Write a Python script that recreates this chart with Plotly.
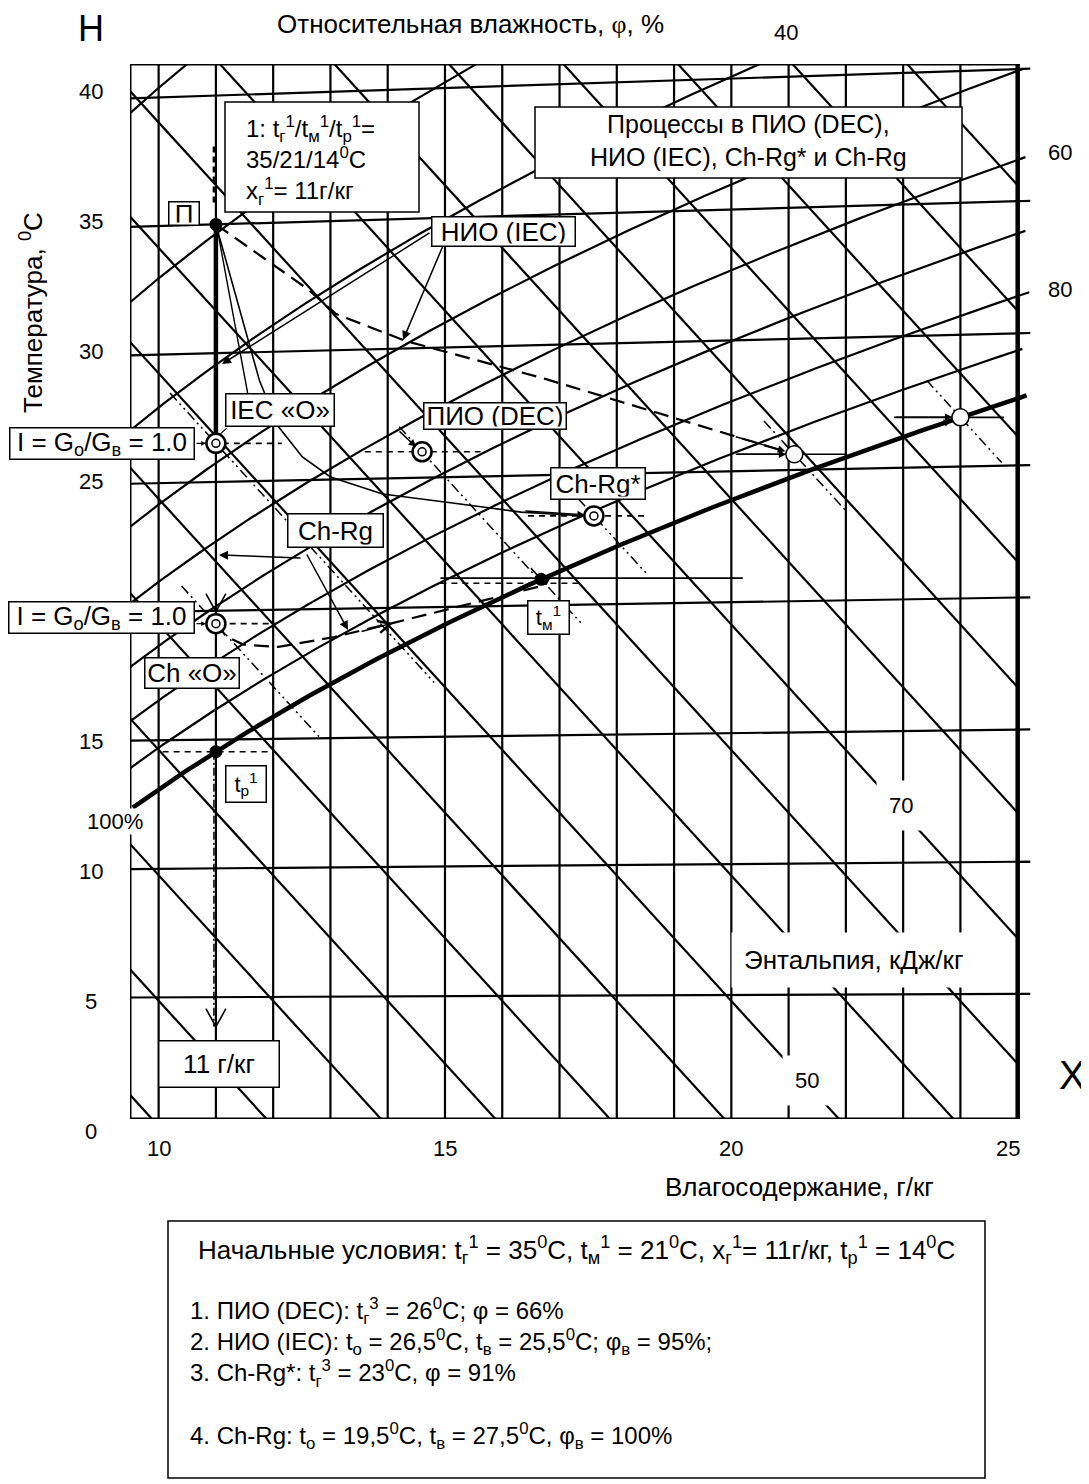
import numpy as np
import plotly.graph_objects as go

# ---------------- data ----------------
moisture_lines = list(range(10, 25))            # g/kg, vertical grid
isotherm_t = [5, 10, 15, 20, 25, 30, 35, 40]    # degC
enthalpy_h = list(range(25, 105, 5))            # kJ/kg
rh_levels = [20, 30, 40, 50, 60, 70, 80, 90]    # %
x_tick_vals = [10, 15, 20, 25]
y_tick_vals = [0, 5, 10, 15, 25, 30, 35, 40]
rh_label_vals = [40, 60, 80]

# state points: moisture content x (g/kg), temperature t (degC)
P_x, P_t = 11.0, 35.0            # П  initial air
iec_o_x, iec_o_t = 11.0, 26.5    # IEC product air
ch_o_x, ch_o_t = 11.0, 19.5      # Ch product air
dec_x, dec_t = 14.6, 26.0        # DEC outlet
chs_x, chs_t = 17.6, 23.4        # Ch-Rg* outlet
iec_b_x, iec_b_t = 21.1, 25.6    # IEC working air
chb_x = 24.0                     # Ch-Rg working air (saturated)
tm_t = 21.0                      # wet bulb (saturated)
tp_x = 11.0                      # dew point (saturated)

# process paths (x g/kg, t degC)
nio_x = [11.0, 12.6, 13.1, 14.3, 16.75, 21.1]
nio_t = [35.0, 32.4, 31.4, 30.3, 28.7, 25.6]
chs_path_x = [11.0, 11.76, 12.09, 12.51, 13.0, 13.91, 15.13, 16.33, 17.47]
chs_path_t = [35.0, 28.9, 27.1, 25.9, 25.1, 24.4, 24.0, 23.6, 23.4]
ch_path_x = [11.0, 11.19, 11.48, 12.09, 13.07, 14.1, 16.75]
ch_path_t = [19.5, 18.98, 18.67, 18.56, 18.91, 19.42, 20.78]

# ---------------- chart geometry ----------------
P_ATM = 95.0
SKEW = 0.00184
X_MIN, X_MAX, X_FRAME = 9.5, 25.25, 25.0
Y_MIN, Y_MAX = 0.27, 41.34
OFF = 8                                   # page body margin
PL, PR, PT, PB = 130, 1032, 64, 1119      # plot area in page pixels
FW, FH = 1089 - OFF, 1484 - OFF
FONT = "Arial, Liberation Sans, sans-serif"
LW = 2.2


def ps(t):
    return 0.6112 * np.exp(17.62 * t / (243.12 + t))


def x_of(t, phi):
    pv = phi * ps(t)
    return 622 * pv / (P_ATM - pv)


def t_sat(x):
    pv = x * P_ATM / (622 + x)
    l = np.log(pv / 0.6112)
    return 243.12 * l / (17.62 - l)


def Yv(x, t):
    return np.asarray(t) * (1 + SKEW * (np.asarray(x) - 9.5))


def h_of(x, t):
    return 1.006 * t + x * (2.501 + 0.00186 * t)


def t_of_h(h, x):
    return (h - 2.501 * x) / (1.006 + 0.00186 * x)


def to_px(x, Y):
    return (PL + (x - X_MIN) / (X_MAX - X_MIN) * (PR - PL),
            PB - (Y - Y_MIN) / (Y_MAX - Y_MIN) * (PB - PT))


def pxp(px):
    return (px - PL) / (PR - PL)


def pyp(py):
    return (PB - py) / (PB - PT)


DXP = (X_MAX - X_MIN) / (PR - PL)
DYP = (Y_MAX - Y_MIN) / (PB - PT)

fig = go.Figure()


def line(xs, Ys, w=LW, dash=None):
    fig.add_trace(go.Scatter(x=list(xs), y=list(Ys), mode="lines",
                             line=dict(color="black", width=w, dash=dash),
                             hoverinfo="skip", showlegend=False))


def joined(segs):
    X, Y = [], []
    for xs, ys in segs:
        X += list(xs) + [None]
        Y += list(ys) + [None]
    return X, Y


# vertical moisture lines
line(*joined([([g, g], [Y_MIN, Y_MAX]) for g in moisture_lines]))
# isotherms
xs_iso = np.linspace(9.5, 25.22, 30)
line(*joined([(xs_iso, Yv(xs_iso, t)) for t in isotherm_t]))
# enthalpy lines
xs_h = np.linspace(9.5, X_FRAME, 80)
line(*joined([(xs_h, Yv(xs_h, t_of_h(h, xs_h))) for h in enthalpy_h]))
# relative humidity lines
ts = np.linspace(-5, 60, 700)
segs = []
for phi in rh_levels:
    xx = x_of(ts, phi / 100)
    m = (xx >= 9.3) & (xx <= 25.22)
    segs.append((xx[m], Yv(xx[m], ts[m])))
line(*joined(segs))
# saturation curve
xx = x_of(ts, 1.0)
m = (xx >= 9.5) & (xx <= 25.22)
line(xx[m], Yv(xx[m], ts[m]), w=4.5)

# frame
fig.add_shape(type="rect", x0=X_MIN, x1=X_FRAME, y0=Y_MIN, y1=Y_MAX,
              line=dict(color="black", width=3), layer="above")
fig.add_shape(type="line", x0=X_FRAME, x1=X_FRAME, y0=Y_MIN, y1=Y_MAX,
              line=dict(color="black", width=4.5), layer="above")

# ---------------- processes ----------------
P_Y = float(Yv(P_x, P_t))
iec_o_Y = float(Yv(iec_o_x, iec_o_t))
ch_o_Y = float(Yv(ch_o_x, ch_o_t))
dec_Y = float(Yv(dec_x, dec_t))
chs_Y = float(Yv(chs_x, chs_t))
iec_b_Y = float(Yv(iec_b_x, iec_b_t))
chb_t = float(t_sat(chb_x))
chb_Y = float(Yv(chb_x, chb_t))
tm_x = float(x_of(tm_t, 1.0))
tm_Y = float(Yv(tm_x, tm_t))
tp_t = float(t_sat(tp_x))
tp_Y = float(Yv(tp_x, tp_t))

# thick vertical: П -> IEC «O»
line([P_x, iec_o_x], [P_Y, iec_o_Y], w=4.5)
# dashed part of x=11 above П and below dew point
line([P_x - 2 * DXP] * 2, [P_Y + 22 * DYP, P_Y + 80 * DYP], w=2.5, dash="6px,4px")
line([tp_x - 2 * DXP] * 2, [tp_Y, tp_Y - 275 * DYP], w=1.5, dash="8px,3px,2px,3px")

# wet-bulb (constant enthalpy) dash-dot-dot lines
wb = [(iec_o_x, iec_o_t, 10.2, 14.81), (ch_o_x, ch_o_t, 10.4, 12.8),
      (dec_x, dec_t, 14.2, 16.68), (chs_x, chs_t, 17.33, 18.51),
      (iec_b_x, iec_b_t, 20.57, 22.02), (chb_x, chb_t, 23.41, 24.72),
      (tm_x, tm_t, 16.5, 17.38)]
segs = []
for x0, t0, xa, xb in wb:
    hh = h_of(x0, t0)
    xs = np.linspace(xa, xb, 12)
    segs.append((xs, Yv(xs, t_of_h(hh, xs))))
line(*joined(segs), w=1.5, dash="10px,4px,2px,4px,2px,4px")

# НИО (IEC) dashed process
line(nio_x, Yv(nio_x, nio_t), w=2.2, dash="15px,8px")
# Ch-Rg* solid curve
line(chs_path_x, Yv(chs_path_x, chs_path_t), w=1.6)
# Ch-Rg dashed curve then along saturation
xs_sat = np.linspace(ch_path_x[-1] + 0.1, chb_x - 0.15, 40)
ch_all_x = list(ch_path_x) + list(xs_sat)
ch_all_Y = list(Yv(ch_path_x, ch_path_t)) + list(Yv(xs_sat, t_sat(xs_sat)))
line(ch_all_x, ch_all_Y, w=2.2, dash="15px,8px")

# horizontal guide lines at state points
dashed_h = [(iec_o_x + 0.12, 12.15, iec_o_Y), (ch_o_x + 0.24, 12.05, ch_o_Y),
            (13.6, 15.62, dec_Y), (16.45, 18.51, chs_Y),
            (14.92, 17.4, tm_Y - 0.15), (10.07, 12.05, tp_Y)]
line(*joined([([a, b], [y, y]) for a, b, y in dashed_h]), w=1.6, dash="6px,5px")
solid_h = [(14.92, 20.2, tm_Y + 0.05), (20.08, 22.0, iec_b_Y), (22.84, 24.76, chb_Y)]
line(*joined([([a, b], [y, y]) for a, b, y in solid_h]), w=1.6)


# open V arrowheads on x = 11
def vhead(x, Y):
    return ([x - 10 * DXP, x, x + 10 * DXP], [Y + 18 * DYP, Y, Y + 18 * DYP])


bottom_Y = tp_Y - 275 * DYP
line(*joined([vhead(tp_x, bottom_Y), vhead(ch_o_x, ch_o_Y + 12 * DYP)]), w=1.6)

# markers
fig.add_trace(go.Scatter(x=[P_x, tm_x, tp_x], y=[P_Y, tm_Y, tp_Y], mode="markers",
                         marker=dict(color="black", size=13), hoverinfo="skip", showlegend=False))
bx = [iec_o_x, ch_o_x, dec_x, chs_x]
by = [iec_o_Y, ch_o_Y, dec_Y, chs_Y]
fig.add_trace(go.Scatter(x=bx, y=by, mode="markers",
                         marker=dict(color="white", size=19, line=dict(color="black", width=2.5)),
                         hoverinfo="skip", showlegend=False))
fig.add_trace(go.Scatter(x=bx, y=by, mode="markers",
                         marker=dict(color="white", size=8, symbol="circle",
                                     line=dict(color="black", width=1.5)),
                         hoverinfo="skip", showlegend=False))
fig.add_trace(go.Scatter(x=[iec_b_x, chb_x], y=[iec_b_Y, chb_Y], mode="markers",
                         marker=dict(color="white", size=17, line=dict(color="black", width=1.5)),
                         hoverinfo="skip", showlegend=False))


# ---------------- annotations ----------------
def text(t, px, py, size=26, anchor="center", angle=0, bg=None, pad=0, align="center"):
    fig.add_annotation(x=pxp(px), y=pyp(py), xref="paper", yref="paper", text=t,
                       showarrow=False, xanchor=anchor, yanchor="middle", textangle=angle,
                       font=dict(family=FONT, size=size, color="black"),
                       bgcolor=bg, borderpad=pad, align=align)


def box(t, x0, x1, y0, y1, size=26, align="center"):
    pad, bw = 2, 1.5
    fig.add_annotation(x=pxp((x0 + x1) / 2), y=pyp((y0 + y1) / 2), xref="paper", yref="paper",
                       text=t, showarrow=False, xanchor="center", yanchor="middle",
                       width=x1 - x0 - 2 * pad - 2 * bw, height=y1 - y0 - 2 * pad - 2 * bw,
                       align=align, valign="middle",
                       font=dict(family=FONT, size=size, color="black"),
                       bgcolor="white", bordercolor="black", borderwidth=bw, borderpad=pad)


def rect(x0, x1, y0, y1, w=1.5):
    fig.add_shape(type="rect", xref="paper", yref="paper", x0=pxp(x0), x1=pxp(x1),
                  y0=pyp(y1), y1=pyp(y0), line=dict(color="black", width=w),
                  fillcolor="white", layer="above")


def arrow(hx, hy, tx, ty, head=2, size=1.2, width=1.5):
    fig.add_annotation(x=pxp(hx), y=pyp(hy), xref="paper", yref="paper",
                       ax=tx - hx, ay=ty - hy, axref="pixel", ayref="pixel", text="",
                       showarrow=True, arrowhead=head, arrowsize=size, arrowwidth=width,
                       arrowcolor="black", standoff=0)


# axis tick labels
for v in x_tick_vals:
    px, _ = to_px(v, 0)
    text(str(v), px - (10 if v == 25 else 0), 1148, size=22)
for v in y_tick_vals:
    _, py = to_px(9.5, v)
    text(str(v), 91, py - (v - 17) * 0.3, size=22)
text("100%", 115, 821, size=22, bg="white")
# RH labels
for v in rh_label_vals:
    tt = np.linspace(0, 60, 2000)
    xx = x_of(tt, v / 100)
    YY = Yv(xx, tt)
    m = (xx <= 25.22) & (YY <= Y_MAX)
    px, py = to_px(xx[m][-1], YY[m][-1])
    if YY[m][-1] >= Y_MAX - 0.05:
        text(str(v), px + 27, py - 32, size=22)
    else:
        text(str(v), px + 31, py - 3, size=22)

text("H", 91, 28, size=36)
text("X", 1072, 1075, size=40)
text("Относительная влажность, <span style='font-family:Liberation Serif, Times New Roman, serif'>φ</span>, %",
     470, 24, size=26)
text("Температура, <sup>0</sup>С", 31, 313, size=26, angle=-90)
text("Влагосодержание, г/кг", 799, 1187, size=26)
text("Энтальпия, кДж/кг", 853, 960, size=26, bg="white", pad=12)
text("70", 901, 806, size=22, bg="white", pad=12)
text("50", 807, 1080, size=22, bg="white", pad=12)

# leader lines / arrows (drawn before boxes so boxes sit on top)
ppx, ppy = to_px(P_x, P_Y)
arrow(248, 395, ppx + 2, ppy + 8, head=0, width=1.4)
arrow(403, 340, 445, 241)
arrow(222, 364, 431, 232)
dpx, dpy = to_px(dec_x, dec_Y)
arrow(dpx - 6, dpy - 5, 398, 430, size=1.0)
arrow(219, 555, 302, 558)
arrow(348, 630, 306, 553)
ipx, ipy = to_px(iec_o_x, iec_o_Y)
arrow(ipx - 10, ipy, 195, ipy, size=0.8, width=1.2)
arrow(ipx + 4, ipy - 9, 228, 427, head=0, width=1.2)
cox, coy = to_px(ch_o_x, ch_o_Y)
arrow(cox - 10, coy, 195, coy, size=0.8, width=1.2)
bpx, bpy = to_px(iec_b_x, iec_b_Y)
arrow(bpx - 8, bpy, 736, bpy, size=1.0)
arrow(bpx - 9, bpy - 3, bpx - 60, bpy - 18, size=1.0)
cpx, cpy = to_px(chb_x, chb_Y)
arrow(cpx - 8, cpy, cpx - 66, cpy, size=1.0)
spx, spy = to_px(chs_x, chs_Y)
arrow(spx - 9, spy - 1, spx - 70, spy - 5, size=1.0)
arrow(cpx - 9, cpy + 3, cpx - 60, cpy + 22, size=1.0)
arrow(393, 623, 360, 632, head=5, size=1.6, width=1.5)

sg = "t<sub>г</sub><sup>1</sup>"
sm = "t<sub>м</sub><sup>1</sup>"
sp = "t<sub>р</sub><sup>1</sup>"
rect(225, 419, 102, 212)
text("1: " + sg + "/" + sm + "/" + sp + "=<br>35/21/14<sup>0</sup>C<br>x<sub>г</sub><sup>1</sup>= 11г/кг",
     245, 160, size=24, anchor="left", align="left")
rect(535, 962, 107, 178)
text("Процессы в ПИО (DEC),<br>НИО (IEC), Ch-Rg* и Ch-Rg", 748, 141, size=25)
box("П", 168, 200, 201, 226)
box("НИО (IEC)", 431, 576, 216, 247)
box("IEC «O»", 225, 335, 393, 427)
box("ПИО (DEC)", 423, 567, 402, 430)
box("I = G<sub>о</sub>/G<sub>в</sub> = 1.0", 9, 195, 427, 460)
box("I = G<sub>о</sub>/G<sub>в</sub> = 1.0", 8, 195, 601, 634)
box("Ch-Rg", 287, 384, 513, 548)
box("Ch-Rg*", 550, 646, 467, 500)
box(sm, 527, 570, 600, 635, size=22)
box("Ch «O»", 144, 240, 657, 689)
box(sp, 225, 267, 765, 803, size=22)
box("11 г/кг", 158, 280, 1040, 1088)

# bottom info box
rect(168, 985, 1221, 1478)
text("Начальные условия: " + sg + " = 35<sup>0</sup>C, " + sm + " = 21<sup>0</sup>C, x<sub>г</sub><sup>1</sup>= 11г/кг, "
     + sp + " = 14<sup>0</sup>C", 576, 1250)
info_lines = [
    "1. ПИО (DEC): t<sub>г</sub><sup>3</sup> = 26<sup>0</sup>C; φ = 66%",
    "2. НИО (IEC): t<sub>о</sub> = 26,5<sup>0</sup>C, t<sub>в</sub> = 25,5<sup>0</sup>C; φ<sub>в</sub> = 95%;",
    "3. Ch-Rg*: t<sub>г</sub><sup>3</sup> = 23<sup>0</sup>C, φ = 91%",
    "",
    "4. Ch-Rg: t<sub>о</sub> = 19,5<sup>0</sup>C, t<sub>в</sub> = 27,5<sup>0</sup>C, φ<sub>в</sub> = 100%",
]
text("<br>".join(info_lines), 189, 1373, size=24, anchor="left", align="left")

fig.update_layout(width=FW, height=FH,
                  margin=dict(l=PL - OFF, r=FW - (PR - OFF), t=PT - OFF, b=FH - (PB - OFF)),
                  paper_bgcolor="white", plot_bgcolor="white", showlegend=False,
                  xaxis=dict(range=[X_MIN, X_MAX], visible=False),
                  yaxis=dict(range=[Y_MIN, Y_MAX], visible=False))
fig.write_html("out.html")
